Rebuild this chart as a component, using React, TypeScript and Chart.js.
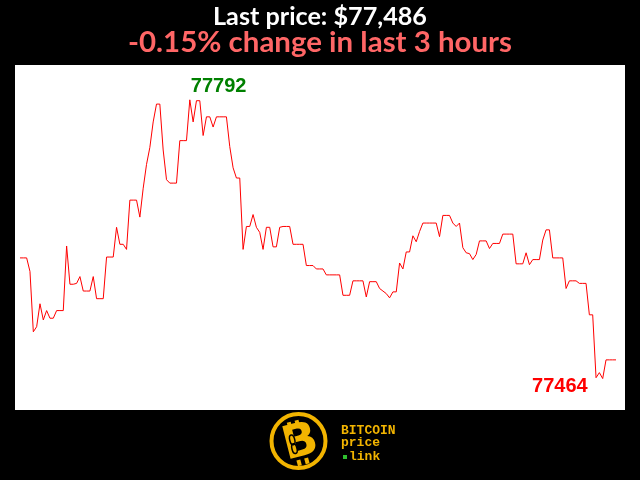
import React, { useEffect, useRef } from "react";
import { Chart, registerables } from "chart.js";

Chart.register(...registerables);

const titleText = "Last price: $77,486";
const subtitleText = "-0.15% change in last 3 hours";
const maxLabel = "77792";
const minLabel = "77464";

const prices: number[] = [
  77606, 77606, 77606, 77590, 77519, 77525, 77552, 77533, 77544, 77535,
  77535, 77544, 77544, 77544, 77620, 77575, 77575, 77576, 77584, 77567,
  77567, 77567, 77584, 77558, 77558, 77558, 77607, 77607, 77607, 77642,
  77622, 77622, 77616, 77674, 77674, 77674, 77654, 77688, 77716, 77736,
  77766, 77787, 77787, 77733, 77698, 77694, 77694, 77694, 77744, 77744,
  77744, 77792, 77766, 77791, 77791, 77750, 77772, 77772, 77760, 77772,
  77772, 77772, 77772, 77737, 77712, 77700, 77700, 77616, 77643, 77643,
  77657, 77642, 77636, 77616, 77642, 77642, 77619, 77619, 77642, 77643,
  77643, 77643, 77622, 77622, 77622, 77622, 77597, 77597, 77597, 77593,
  77593, 77593, 77586, 77586, 77586, 77586, 77586, 77562, 77562, 77562,
  77579, 77579, 77579, 77579, 77560, 77578, 77578, 77578, 77570, 77567,
  77564, 77559, 77566, 77566, 77600, 77593, 77613, 77613, 77632, 77625,
  77637, 77647, 77647, 77647, 77647, 77647, 77631, 77656, 77656, 77656,
  77647, 77643, 77647, 77618, 77612, 77611, 77604, 77610, 77626, 77626,
  77626, 77617, 77623, 77623, 77623, 77634, 77634, 77634, 77634, 77599,
  77599, 77599, 77612, 77598, 77604, 77604, 77604, 77627, 77639, 77639,
  77606, 77606, 77606, 77606, 77570, 77579, 77579, 77579, 77576, 77576,
  77576, 77539, 77539, 77465, 77471, 77464, 77486, 77486, 77486, 77486,
];

const GOLD = "#f2b400";

function fitFont(ctx: CanvasRenderingContext2D, text: string, family: string, targetWidth: number) {
  ctx.font = `bold 20px ${family}`;
  const w = ctx.measureText(text).width;
  return (20 * targetWidth) / w;
}

const decorPlugin = {
  id: "decor",
  beforeDraw(chart: any) {
    const { ctx, chartArea } = chart;
    ctx.save();
    ctx.fillStyle = "#000";
    ctx.fillRect(0, 0, chart.width, chart.height);
    ctx.fillStyle = "#fff";
    ctx.fillRect(chartArea.left, chartArea.top, chartArea.right - chartArea.left, chartArea.bottom - chartArea.top);
    ctx.restore();
  },
  afterDraw(chart: any) {
    const { ctx } = chart;
    const xs = chart.scales.x;
    const ys = chart.scales.y;
    ctx.save();
    const fam = '"Lato", "Open Sans", sans-serif';
    // titles
    ctx.textAlign = "center";
    ctx.textBaseline = "alphabetic";
    let s1 = fitFont(ctx, titleText, fam, 214);
    ctx.font = `bold ${s1}px ${fam}`;
    ctx.fillStyle = "#ffffff";
    ctx.fillText(titleText, 320, 25);
    let s2 = fitFont(ctx, subtitleText, fam, 384);
    ctx.font = `bold ${s2}px ${fam}`;
    ctx.fillStyle = "#ff6666";
    ctx.fillText(subtitleText, 320, 52);

    // max / min labels
    let maxI = 0, minI = 0;
    prices.forEach((p, i) => {
      if (p > prices[maxI]) maxI = i;
      if (p < prices[minI]) minI = i;
    });
    ctx.font = 'bold 20px "Liberation Sans", Arial, sans-serif';
    ctx.fillStyle = "#008000";
    ctx.textAlign = "left";
    ctx.textBaseline = "alphabetic";
    ctx.fillText(maxLabel, xs.getPixelForValue(maxI) + 1, ys.getPixelForValue(prices[maxI]) - 8);
    ctx.fillStyle = "#ff0000";
    ctx.textAlign = "right";
    ctx.fillText(minLabel, xs.getPixelForValue(minI) - 15, ys.getPixelForValue(prices[minI]) + 13);

    // logo
    ctx.strokeStyle = GOLD;
    ctx.lineWidth = 4;
    ctx.beginPath();
    ctx.arc(298.5, 441, 27, 0, Math.PI * 2);
    ctx.stroke();
    ctx.save();
    ctx.translate(300, 442);
    ctx.rotate(-0.25);
    ctx.fillStyle = GOLD;
    ctx.font = 'bold 46px "DejaVu Sans", sans-serif';
    ctx.textAlign = "center";
    ctx.textBaseline = "middle";
    ctx.fillText("B", 0, 2);
    ctx.fillRect(-8, -22, 4, 6);
    ctx.fillRect(0, -22, 4, 6);
    ctx.fillRect(-8, 17, 4, 6);
    ctx.fillRect(0, 17, 4, 6);
    ctx.strokeStyle = "#000";
    ctx.lineWidth = 1.5;
    ctx.beginPath();
    ctx.ellipse(-7, -4, 2.5, 5, 0, 0, Math.PI * 2);
    ctx.stroke();
    ctx.beginPath();
    ctx.ellipse(-7, 5, 2.5, 5, 0, 0, Math.PI * 2);
    ctx.stroke();
    ctx.restore();

    ctx.fillStyle = GOLD;
    ctx.textAlign = "left";
    ctx.textBaseline = "alphabetic";
    ctx.font = 'bold 13px "Liberation Mono", "DejaVu Sans Mono", monospace';
    ctx.fillText("BITCOIN", 341, 434);
    ctx.fillText("price", 341, 446);
    ctx.fillText("link", 349, 460);
    ctx.fillStyle = "#2fbf2f";
    ctx.fillRect(343, 455, 4, 4);
    ctx.restore();
  },
};

export default function App() {
  const ref = useRef<HTMLCanvasElement | null>(null);
  useEffect(() => {
    document.body.style.margin = "0";
    document.body.style.background = "#000";
    if (!ref.current) return;
    const chart = new Chart(ref.current, {
      type: "line",
      data: {
        datasets: [
          {
            data: prices.map((p, i) => ({ x: i, y: p })),
            borderColor: "#ff0000",
            borderWidth: 1,
            pointRadius: 0,
            tension: 0,
            fill: false,
          },
        ],
      },
      options: {
        animation: false,
        responsive: false,
        events: [],
        layout: { padding: { left: 15, right: 15, top: 65, bottom: 70 } },
        plugins: { legend: { display: false }, title: { display: false }, tooltip: { enabled: false } },
        scales: {
          x: { type: "linear", display: false, min: -1.5, max: 181.7 },
          y: { display: false, min: 77427, max: 77833 },
        },
      },
      plugins: [decorPlugin],
    });
    return () => chart.destroy();
  }, []);
  return (
    <div style={{ position: "fixed", left: 0, top: 0, width: 640, height: 480, background: "#000" }}>
      <canvas ref={ref} width={640} height={480} style={{ display: "block", width: 640, height: 480 }} />
    </div>
  );
}
